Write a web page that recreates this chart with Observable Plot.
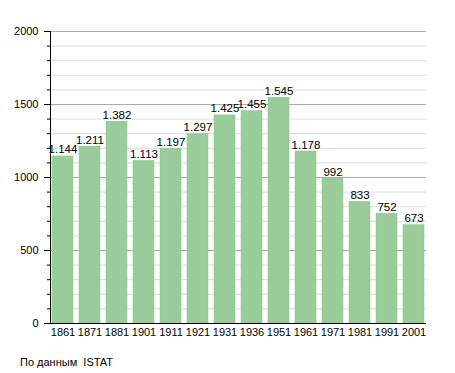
<!DOCTYPE html>
<html><head><meta charset="utf-8">
<script src="https://cdn.jsdelivr.net/npm/d3@7"></script>
<script src="https://cdn.jsdelivr.net/npm/@observablehq/plot@0.6"></script>
<style>
body{margin:0;background:#fff;font-family:"Liberation Sans",Arial,sans-serif;}
#cap{font-size:11px;margin:8px 0 0 20px;color:#000;}
</style></head><body>
<div id="chart"></div>
<div id="cap">По данным&nbsp; ISTAT</div>
<script>
const years = ["1861","1871","1881","1901","1911","1921","1931","1936","1951","1961","1971","1981","1991","2001"];
const population = [1144,1211,1382,1113,1197,1297,1425,1455,1545,1178,992,833,752,673];
const majorTicks = [0,500,1000,1500,2000];
const minorTicks = d3.range(0,2001,100);
const data = years.map((y,i)=>({year:y,value:population[i]}));
const fmt = v => v >= 1000 ? Math.floor(v/1000) + "." + String(v%1000).padStart(3,"0") : String(v);
const chart = Plot.plot({
  width:455, height:348,
  marginTop:31, marginBottom:25, marginLeft:50, marginRight:29,
  style:{fontFamily:"Liberation Sans, Arial, sans-serif", fontSize:"11px", color:"#000"},
  x:{domain:years, paddingInner:0.22, paddingOuter:0.02, label:null},
  y:{domain:[0,2000], label:null},
  marks:[
    Plot.ruleY(minorTicks.filter(t=>t%500!==0), {stroke:"#ddd", strokeWidth:1, strokeOpacity:1}),
    Plot.ruleY(majorTicks.filter(t=>t>0), {stroke:"#aaa", strokeWidth:1, strokeOpacity:1}),
    Plot.barY(data, {x:"year", y:"value", fill:"#9c9", stroke:"#8bc28b", strokeWidth:0.5}),
    Plot.text(data, {x:"year", y:"value", text:d=>fmt(d.value), lineAnchor:"bottom", dy:-3, fontSize:11.5, fill:"#000"}),
    Plot.axisY(minorTicks, {tickSize:3, text:null, stroke:"#000"}),
    Plot.axisY(majorTicks, {tickSize:6, tickPadding:6, tickFormat:d=>String(d), fontSize:11, stroke:"#000"}),
    Plot.axisX({tickSize:0, tickPadding:5, fontSize:11}),
    Plot.frame({anchor:"left", stroke:"#000"}),
    Plot.ruleY([0], {stroke:"#000"})
  ]
});
document.getElementById("chart").append(chart);
</script>
</body></html>
